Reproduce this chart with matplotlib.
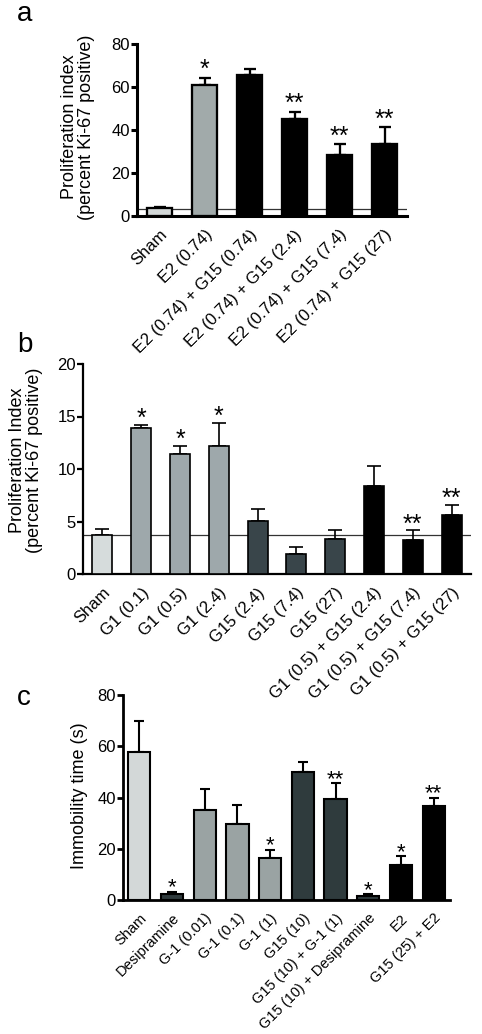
import numpy as np
import matplotlib
matplotlib.use('Agg')
import matplotlib.pyplot as plt

plt.rcParams['font.family'] = ['Liberation Sans', 'DejaVu Sans']

# ---- panel a data
labels_a = ['Sham', 'E2 (0.74)', 'E2 (0.74) + G15 (0.74)', 'E2 (0.74) + G15 (2.4)',
            'E2 (0.74) + G15 (7.4)', 'E2 (0.74) + G15 (27)']
mean_a = [3.5, 60.7, 65.5, 45.2, 28.6, 33.7]
err_a = [0.7, 3.5, 3.1, 3.3, 4.7, 7.5]
stars_a = ['', '*', '', '**', '**', '**']
colors_a = ['#d3d8d8', '#a1aaaa', '#000000', '#000000', '#000000', '#000000']

# ---- panel b data
labels_b = ['Sham', 'G1 (0.1)', 'G1 (0.5)', 'G1 (2.4)', 'G15 (2.4)', 'G15 (7.4)', 'G15 (27)',
            'G1 (0.5) + G15 (2.4)', 'G1 (0.5) + G15 (7.4)', 'G1 (0.5) + G15 (27)']
mean_b = [3.7, 13.9, 11.4, 12.2, 5.05, 1.9, 3.35, 8.35, 3.25, 5.6]
err_b = [0.6, 0.3, 0.8, 2.2, 1.1, 0.65, 0.85, 1.95, 0.9, 1.0]
stars_b = ['', '*', '*', '*', '', '', '', '', '**', '**']
colors_b = ['#d6dcdc', '#9ea8ab', '#9ea8ab', '#9ea8ab', '#39454a', '#39454a', '#39454a',
            '#000000', '#000000', '#000000']

# ---- panel c data
labels_c = ['Sham', 'Desipramine', 'G-1 (0.01)', 'G-1 (0.1)', 'G-1 (1)', 'G15 (10)',
            'G15 (10) + G-1 (1)', 'G15 (10) + Desipramine', 'E2', 'G15 (25) + E2']
mean_c = [57.9, 2.3, 35.2, 29.6, 16.3, 50.1, 39.4, 1.7, 13.7, 36.8]
err_c = [11.9, 1.0, 8.2, 7.6, 3.1, 3.6, 6.1, 0.5, 3.3, 3.0]
stars_c = ['', '*', '', '', '*', '', '**', '*', '*', '**']
colors_c = ['#d3d8d8', '#2f3a3c', '#9aa3a3', '#9aa3a3', '#9aa3a3', '#2f3b3d', '#2f3b3d',
            '#2f3a3c', '#000000', '#000000']

W, H = 482, 1034
fig = plt.figure(figsize=(W/100., H/100.), dpi=100)


def px_axes(left, right, top, bottom):
    # axes from pixel box (origin top-left)
    return fig.add_axes([left/W, (H-bottom)/H, (right-left)/W, (bottom-top)/H])


def panel(ax, labels, mean, err, stars, colors, width, ylim, yticks, spw, capsize,
          star_off, xfs, sfs, hline=None):
    x = np.arange(len(labels))
    if hline is not None:
        ax.axhline(hline, color='#333333', lw=0.9, zorder=1)
    ax.bar(x, mean, width=width, color=colors, edgecolor='k', linewidth=spw*0.75, zorder=3)
    ax.errorbar(x, mean, yerr=[np.zeros(len(x)), err], fmt='none', ecolor='k',
                elinewidth=spw*0.75, capsize=capsize, capthick=spw*0.75, zorder=2)
    for xi, m, e, s in zip(x, mean, err, stars):
        if s:
            ax.annotate(s, (xi, m+e), xytext=(0, star_off), textcoords='offset points',
                        ha='center', va='center', fontsize=sfs)
    ax.set_xlim(-0.5, len(labels)-0.5)
    ax.set_ylim(*ylim)
    ax.set_yticks(yticks)
    ax.set_yticklabels([str(t) for t in yticks], fontsize=12)
    ax.set_xticks(x)
    ax.set_xticklabels(labels, rotation=45, ha='right', rotation_mode='anchor', fontsize=xfs)
    ax.tick_params(axis='x', length=0, pad=8)
    ax.tick_params(axis='y', length=4, width=spw, pad=1)
    for s in ['top', 'right']:
        ax.spines[s].set_visible(False)
    for s in ['left', 'bottom']:
        ax.spines[s].set_linewidth(spw)
    ax.patch.set_alpha(0)


ax1 = px_axes(137, 407, 44, 216)
panel(ax1, labels_a, mean_a, err_a, stars_a, colors_a, 0.56, (0, 80), [0, 20, 40, 60, 80],
      2.2, 4.3, 5.5, 12, 18, hline=3.4)

ax2 = px_axes(83, 471, 364, 574)
panel(ax2, labels_b, mean_b, err_b, stars_b, colors_b, 0.52, (0, 20), [0, 5, 10, 15, 20],
      1.6, 5.2, 4, 12, 18, hline=3.7)

ax3 = px_axes(123, 450, 695, 900)
panel(ax3, labels_c, mean_c, err_c, stars_c, colors_c, 0.68, (0, 80), [0, 20, 40, 60, 80],
      2.0, 3.7, 3, 10.5, 16)

# y labels and panel letters
def ftext(xp, yp, s, **kw):
    fig.text(xp/W, 1-yp/H, s, **kw)

ftext(78, 127, 'Proliferation index\n(percent Ki-67 positive)', rotation=90,
      ha='center', va='center', fontsize=13, linespacing=1.05)
ftext(26, 460, 'Proliferation Index\n(percent Ki-67 positive)', rotation=90,
      ha='center', va='center', fontsize=13, linespacing=1.05)
ftext(80, 796, 'Immobility time (s)', rotation=90, ha='center', va='center', fontsize=13)

ftext(17, 21, 'a', fontsize=20, va='baseline')
ftext(17, 352, 'b', fontsize=20, va='baseline')
ftext(17, 705, 'c', fontsize=20, va='baseline')

fig.savefig('out.png', dpi=100)
